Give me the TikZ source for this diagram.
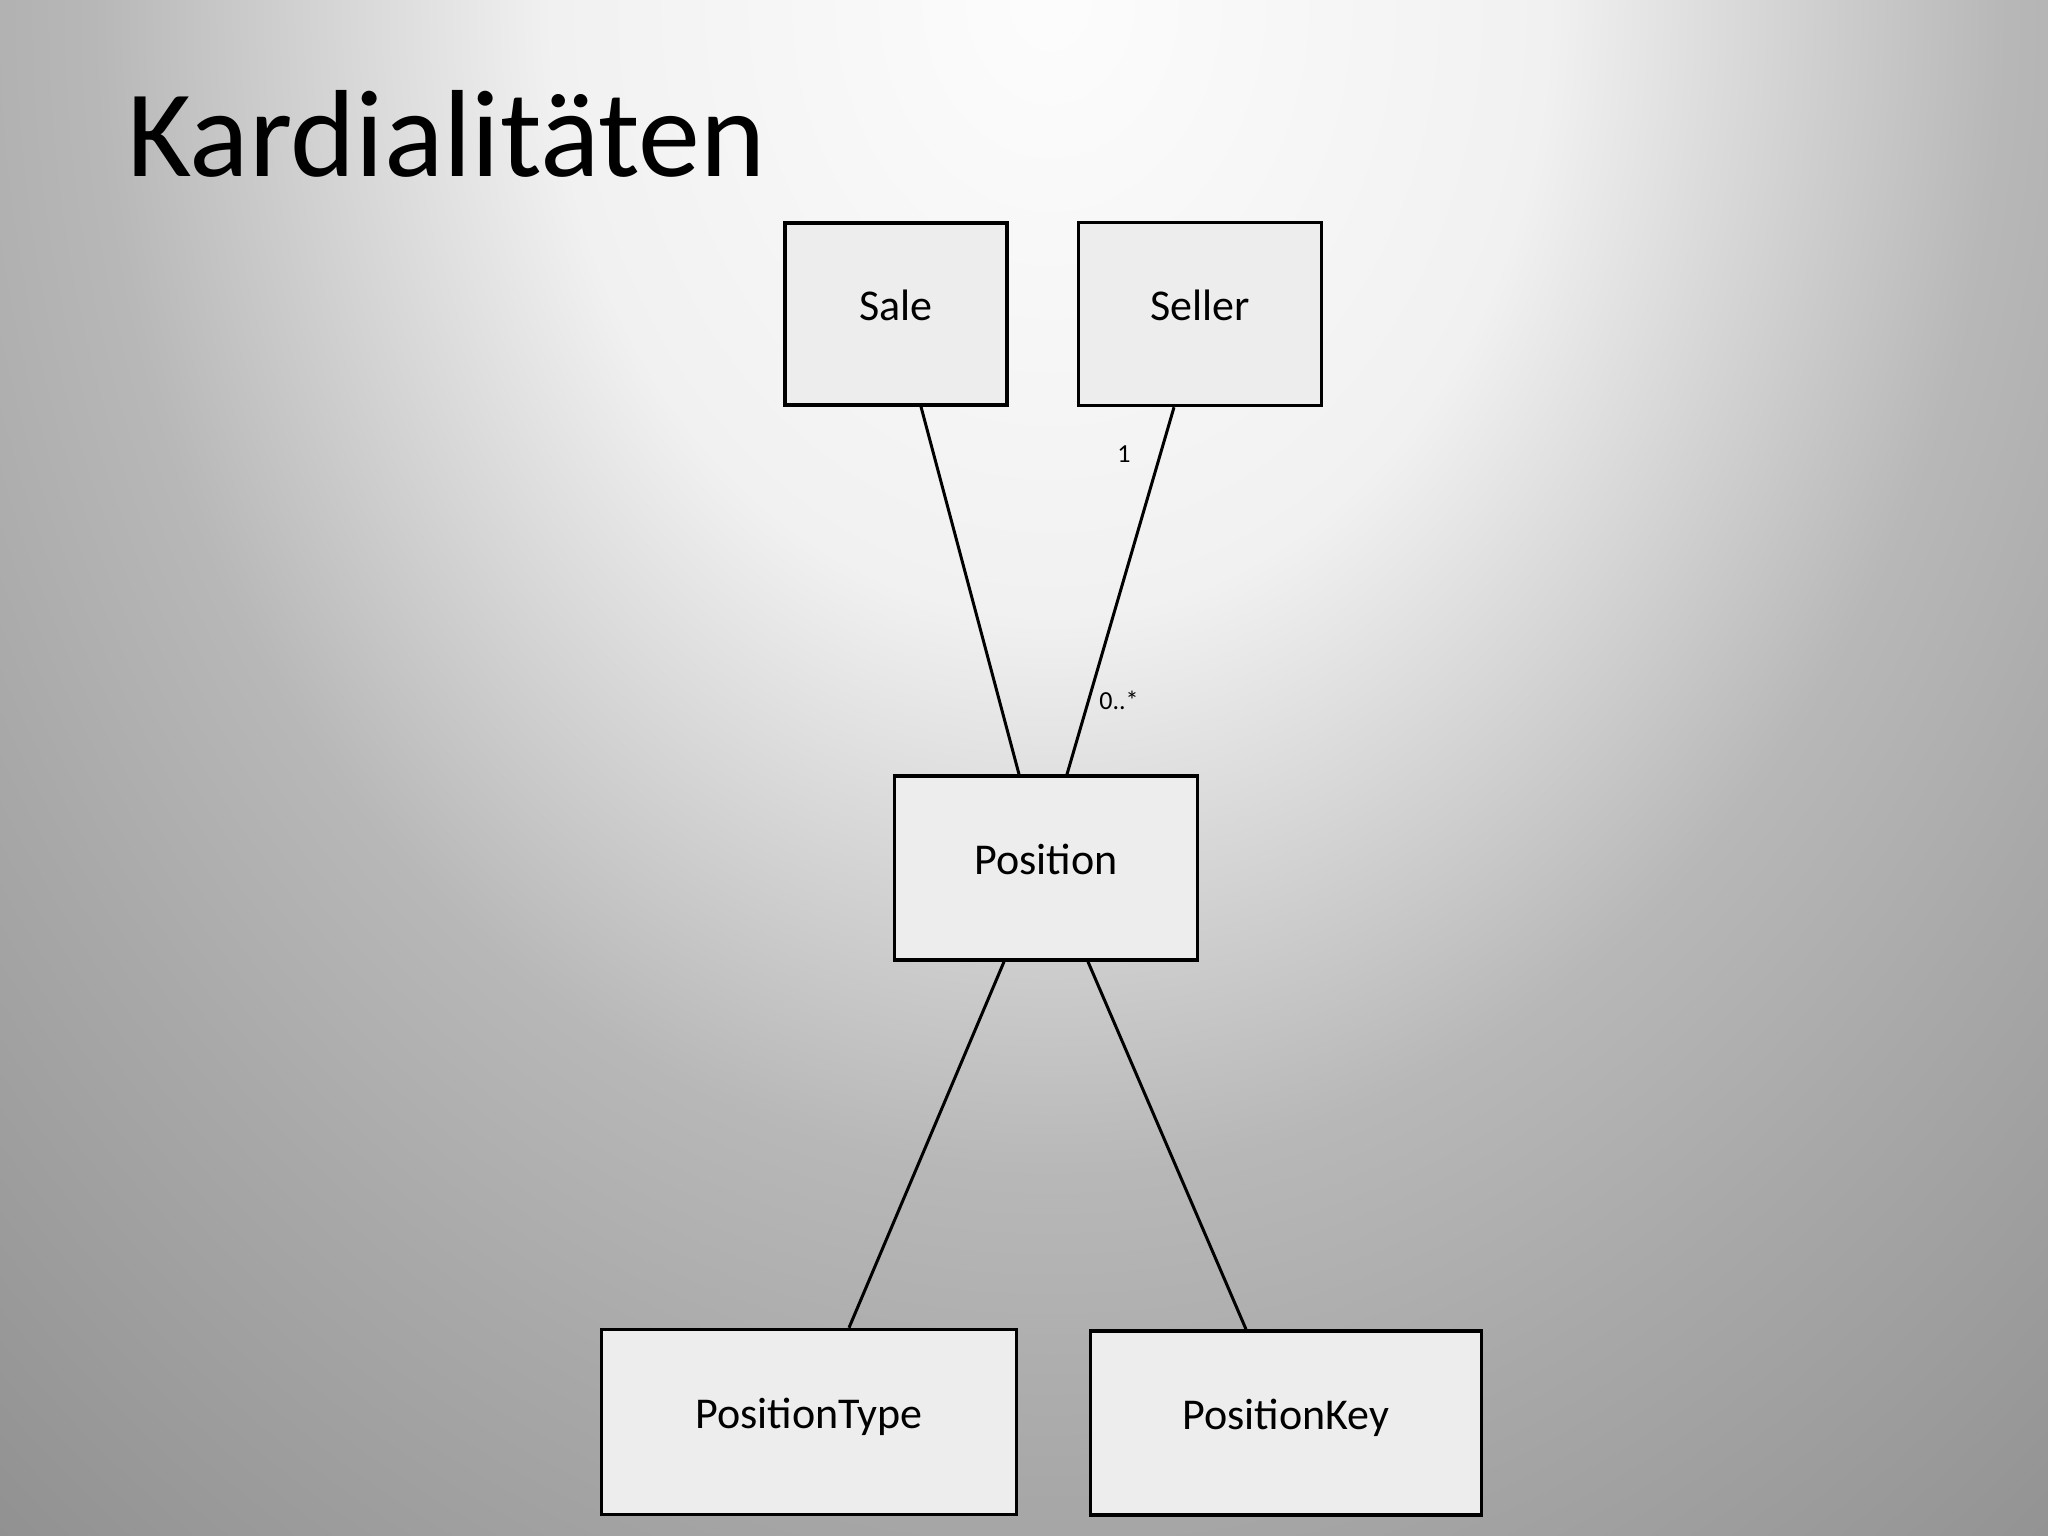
\documentclass[tikz,border=0pt]{standalone}
\usepackage{fontspec}
\setmainfont{Carlito}
\usepackage{tikz}
% slide background, light at the top and darker to the edges
\pgfdeclareradialshading{slidebg}{\pgfpoint{0bp}{0bp}}{%
  rgb(0bp)=(0.99,0.99,0.99); rgb(9.6bp)=(0.945,0.945,0.945);
  rgb(18.3bp)=(0.72,0.72,0.72); rgb(23.1bp)=(0.66,0.66,0.66);
  rgb(34bp)=(0.54,0.54,0.54); rgb(44bp)=(0.5,0.5,0.5);
  rgb(50bp)=(0.5,0.5,0.5)}
\newcommand{\definitions}{%
  % color of entity boxes
  \colorlet{colBox}{black!7}

  % corners of the background shading, centered at (1050,0)
  \coordinate (bgA) at (-250,-1600);
  \coordinate (bgB) at (2350,1600);
}
\tikzset{
  entity/.style={draw, rectangle, line width=3.5pt, fill=colBox, inner sep=0pt,
    text height=30pt, text depth=18pt, font=\fontsize{44}{50}\selectfont},
  assoc/.style={line width=3pt},
  mult/.style={inner sep=0pt, font=\fontsize{26}{30}\selectfont}
}

\begin{document}
\begin{tikzpicture}[x=1pt, y=-1pt]

  % define colors and coordinates
  \definitions
  \useasboundingbox (0,0) rectangle (2048,1536);

  % slide background
  \begin{scope}
    \clip (0,0) rectangle (2048,1536);
    \shade[shading=slidebg] (bgA) rectangle (bgB);
  \end{scope}

  % slide title
  \node[anchor=base west, inner sep=0pt, font=\fontsize{124}{130}\selectfont] (title) at (127,176) {Kardialitäten};

  % entity boxes
  \node[entity, minimum width=222pt, minimum height=182pt] (sale) at (896,314) {Sale};
  \node[entity, minimum width=243pt, minimum height=183pt] (seller) at (1200,314) {Seller};
  \node[entity, minimum width=303pt, minimum height=184pt] (pos) at (1046,868) {Position};
  \node[entity, minimum width=415pt, minimum height=185pt] (ptype) at (809,1422) {PositionType};
  \node[entity, minimum width=391pt, minimum height=184pt] (pkey) at (1286,1423) {PositionKey};

  % associations between entities
  \draw[assoc] ([xshift=25pt]sale.south) -- ([xshift=-27pt]pos.north);
  \draw[assoc] ([xshift=-26pt]seller.south) -- ([xshift=21pt]pos.north);
  \draw[assoc] ([xshift=-42pt]pos.south) -- ([xshift=40pt]ptype.north);
  \draw[assoc] ([xshift=42pt]pos.south) -- ([xshift=-40pt]pkey.north);

  % multiplicities of the seller association
  \node[mult] (mOne) at (1124,454) {1};
  \node[mult] (mMany) at (1119,700) {0..*};

\end{tikzpicture}
\end{document}
